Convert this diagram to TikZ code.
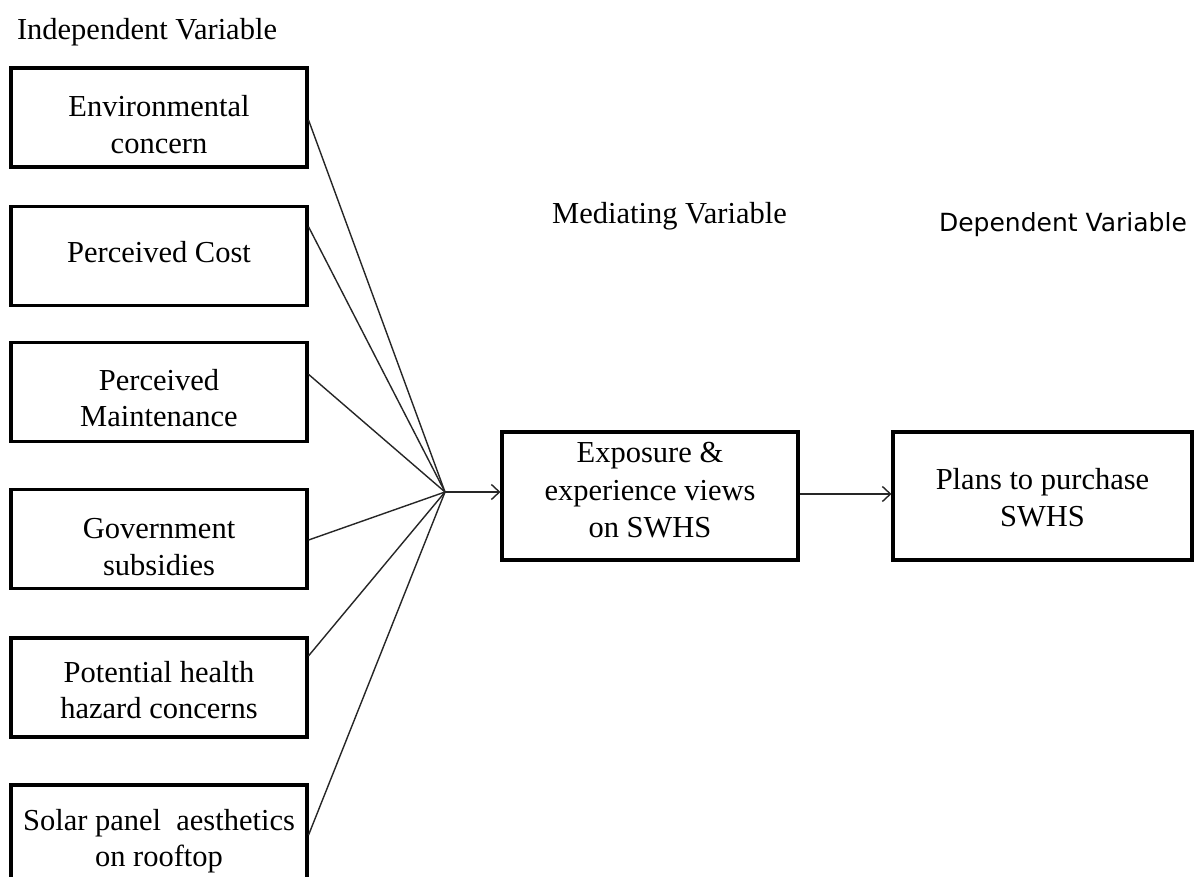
\documentclass[tikz,border=0pt]{standalone}
\usepackage{fontspec}
\setmainfont{Liberation Serif}
\newfontfamily\dejavu{DejaVu Sans}
\usetikzlibrary{arrows.meta,calc}
\begin{document}
\begin{tikzpicture}[x=1pt,y=-1pt,
  box/.style={draw=black, line width=3.1pt, minimum width=296pt, minimum height=99pt, inner sep=0pt},
  wide/.style={box, minimum height=128pt},
  txt/.style={inner sep=0pt, align=center, font=\fontsize{30.5}{36.5}\selectfont},
  lbl/.style={inner sep=0pt, font=\fontsize{30.5}{36}\selectfont},
  slbl/.style={inner sep=0pt, font=\dejavu\fontsize{25}{30}\selectfont},
  link/.style={draw=black!85, line width=1.4pt},
  arr/.style={link, -{Straight Barb[length=8pt,width=15pt,line width=1.4pt]}}]
\useasboundingbox (0,0) rectangle (1200,877);
\fill[white] (0,0) rectangle (1200,877);

\node[lbl] (tI) at (147,32) {Independent Variable};
\node[lbl] (tM) at (669.5,216) {Mediating Variable};
\node[slbl] (tD) at (1063,225) {Dependent Variable};

\node[box] (b1) at (159,117.5) {};
\node[box] (b2) at (159,256) {};
\node[box] (b3) at (159,392) {};
\node[box] (b4) at (159,539) {};
\node[box] (b5) at (159,687.5) {};
\node[box] (b6) at (159,834.5) {};
\node[wide] (m) at (650,496) {};
\node[wide, minimum width=299pt] (r) at (1042.5,496) {};

\node[txt] (b1t) at ($(b1)+(0,7)$) {Environmental\\concern};
\node[txt] (b2t) at ($(b2)+(0,-4)$) {Perceived Cost};
\node[txt] (b3t) at ($(b3)+(0,6)$) {Perceived\\Maintenance};
\node[txt] (b4t) at ($(b4)+(0,8)$) {Government\\subsidies};
\node[txt] (b5t) at ($(b5)+(0,2.5)$) {Potential health\\hazard concerns};
\node[txt] (b6t) at ($(b6)+(0,6.5)$) {Solar panel\ \ aesthetics\\on rooftop};
\node[txt, font=\fontsize{30.5}{37.5}\selectfont] (mt) at ($(m)+(0,-5.5)$) {Exposure \&\\experience views\\on SWHS};
\node[txt] (rt) at ($(r)+(0,1.5)$) {Plans to purchase\\SWHS};

\coordinate (hub) at (445,492);

\draw[link] ($(b1.north east)!0.525!(b1.south east)$) -- (hub);
\draw[link] ($(b2.north east)!0.214!(b2.south east)$) -- (hub);
\draw[link] ($(b3.north east)!0.327!(b3.south east)$) -- (hub);
\draw[link] ($(b4.north east)!0.51!(b4.south east)$) -- (hub);
\draw[link] ($(b5.north east)!0.19!(b5.south east)$) -- (hub);
\draw[link] ($(b6.north east)!0.505!(b6.south east)$) -- (hub);

\draw[arr] (hub) -- (hub -| m.west);
\draw[arr] ($(m.east)+(0,-2)$) -- ($(r.west)+(0,-2)$);
\end{tikzpicture}
\end{document}
